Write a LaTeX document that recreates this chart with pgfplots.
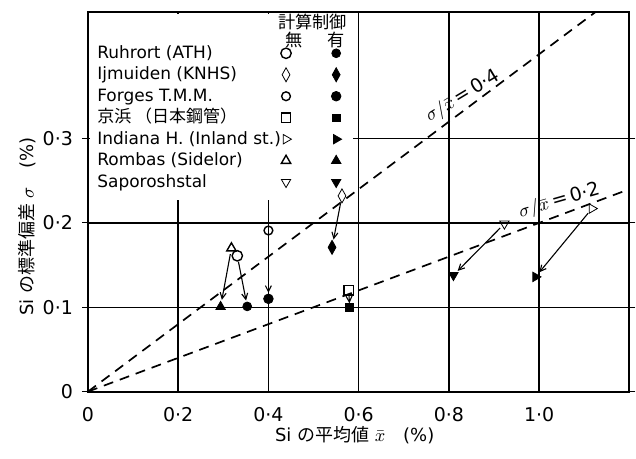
\documentclass[border=0pt]{standalone}
\usepackage{fontspec}
\setmainfont{DejaVu Sans}
\newfontfamily\jp{Noto Sans CJK JP}
\usepackage{pgfplots}
\pgfplotsset{compat=1.18}
\usetikzlibrary{arrows.meta}

\pgfplotsset{
  mylegimg/.style={legend image code/.code={\draw[mark repeat=2,mark phase=2,##1] plot coordinates {(0pt,0pt)(6pt,0pt)(12pt,0pt)};}},
  opn/.style={only marks, black, mark options={fill=white, line width=0.7pt}, mylegimg},
  fil/.style={only marks, black, mark options={fill=black, line width=0.4pt}, mylegimg},
  arr/.style={black, line width=0.55pt, -{Straight Barb[length=3pt,width=3pt]}, forget plot},
}

\begin{document}
\begin{tikzpicture}
\begin{axis}[
  scale only axis,
  width=271pt, height=190pt,
  xmin=0, xmax=1.2, ymin=0, ymax=0.45,
  clip=false,
  axis line style={line width=1pt},
  grid=major,
  major grid style={black, line width=0.7pt},
  xtick={0,0.2,0.4,0.6,0.8,1.0},
  xticklabels={0,0·2,0·4,0·6,0·8,1·0},
  ytick={0,0.1,0.2,0.3},
  yticklabels={0,0·1,0·2,0·3},
  x tick style={draw=none},
  y tick style={black, line width=0.6pt},
  tick align=outside,
  major tick length=3pt,
  tick label style={font=\fontsize{9.5}{11}\selectfont},
  xticklabel style={yshift=-1.5pt},
  yticklabel style={xshift=-1pt},
  xlabel={Si {\jp の平均値} $\bar{x}$\quad (\%)},
  ylabel={Si {\jp の標準偏差} $\sigma$\quad (\%)},
  label style={font=\fontsize{9}{10}\selectfont},
  xlabel style={xshift=-2pt, yshift=4.5pt},
  ylabel style={yshift=-3.5pt, xshift=-12.5pt},
  legend columns=2,
  legend plot pos=right,
  legend cell align=left,
  legend style={
    at={(rel axis cs:0.0166,0.916)}, anchor=north west,
    draw=none, fill=none, inner xsep=0pt, inner ysep=0pt,
    font=\fontsize{8.5}{10}\selectfont,
    nodes={inner sep=0pt, text height=7pt, text depth=2pt},
    row sep=1.75pt,
    /tikz/every even column/.append style={column sep=19pt},
  },
]
% cover grid behind the legend
\fill[white] (rel axis cs:0.004,0.505) rectangle (rel axis cs:0.49,0.996);

% reference lines sigma/xbar = 0.4 and 0.2
\addplot[black, line width=0.85pt, dash pattern=on 5pt off 3.5pt, forget plot] coordinates {(0,0) (1.125,0.45)};
\addplot[black, line width=0.85pt, dash pattern=on 5pt off 3.5pt, forget plot] coordinates {(0,0) (1.2,0.24)};

% arrows (uncontrolled -> controlled)
\addplot[arr, shorten <=3pt, shorten >=3.5pt] coordinates {(0.318,0.170) (0.294,0.1006)};
\addplot[arr, shorten <=3pt, shorten >=3pt] coordinates {(0.331,0.161) (0.353,0.101)};
\addplot[arr, shorten <=3pt, shorten >=3pt] coordinates {(0.400,0.191) (0.400,0.110)};
\addplot[arr, shorten <=4pt, shorten >=4pt] coordinates {(0.563,0.232) (0.541,0.171)};
\addplot[arr, shorten <=2.5pt, shorten >=2pt] coordinates {(0.578,0.120) (0.580,0.100)};
\addplot[arr, shorten <=3pt, shorten >=3pt] coordinates {(0.923,0.199) (0.810,0.138)};
\addplot[arr, shorten <=3pt, shorten >=3pt] coordinates {(1.117,0.217) (0.992,0.136)};

% data: open = without computer control, filled = with
\addplot[opn, mark=o, mark size=2.6pt] coordinates {(0.331,0.161)};
\addlegendentry{Ruhrort (ATH)}
\addplot[fil, mark=*, mark size=2.2pt] coordinates {(0.353,0.101)};
\addlegendentry{}
\addplot[opn, mark=diamond, mark size=2.6pt, mark options={yscale=1.35}] coordinates {(0.563,0.232)};
\addlegendentry{Ijmuiden (KNHS)}
\addplot[fil, mark=diamond*, mark size=2.6pt, mark options={yscale=1.35}] coordinates {(0.541,0.171)};
\addlegendentry{}
\addplot[opn, mark=o, mark size=2.2pt] coordinates {(0.400,0.191)};
\addlegendentry{Forges T.M.M.}
\addplot[fil, mark=*, mark size=2.4pt] coordinates {(0.400,0.110)};
\addlegendentry{}
\addplot[opn, mark=square, mark size=2.3pt] coordinates {(0.578,0.120)};
\addlegendentry{{\jp 京浜 （日本鋼管）}}
\addplot[fil, mark=square*, mark size=1.9pt] coordinates {(0.580,0.100)};
\addlegendentry{}
\addplot[opn, mark=triangle, mark size=2.7pt, mark options={rotate=-90}] coordinates {(1.117,0.217)};
\addlegendentry{Indiana H. (Inland st.)}
\addplot[fil, mark=triangle*, mark size=2.7pt, mark options={rotate=-90}] coordinates {(0.992,0.136)};
\addlegendentry{}
\addplot[opn, mark=triangle, mark size=2.7pt] coordinates {(0.318,0.170)};
\addlegendentry{Rombas (Sidelor)}
\addplot[fil, mark=triangle*, mark size=2.7pt] coordinates {(0.294,0.1006)};
\addlegendentry{}
\addplot[opn, mark=triangle, mark size=2.7pt, mark options={rotate=180}] coordinates {(0.923,0.199)};
\addlegendentry{Saporoshstal}
\addplot[fil, mark=triangle*, mark size=2.7pt, mark options={rotate=180}] coordinates {(0.810,0.138)};
\addlegendentry{}

% legend header
\node[font=\jp\fontsize{8.6}{10}\selectfont] at (rel axis cs:0.415,0.974) {計算制御};
\node[font=\jp\fontsize{8.6}{10}\selectfont] at (rel axis cs:0.380,0.926) {無};
\node[font=\jp\fontsize{8.6}{10}\selectfont] at (rel axis cs:0.459,0.926) {有};

% line labels
\node[rotate=31, font=\fontsize{9.5}{11}\selectfont] at (axis cs:0.831,0.350) {$\sigma/\bar{x}$\,=\,0·4};
\node[rotate=16, font=\fontsize{9.5}{11}\selectfont] at (axis cs:1.045,0.226) {$\sigma/\bar{x}$\,=\,0·2};

% image frame
\path (rel axis cs:-0.1624,-0.176) rectangle (rel axis cs:1.011,1.0316);
\end{axis}
\end{tikzpicture}
\end{document}
